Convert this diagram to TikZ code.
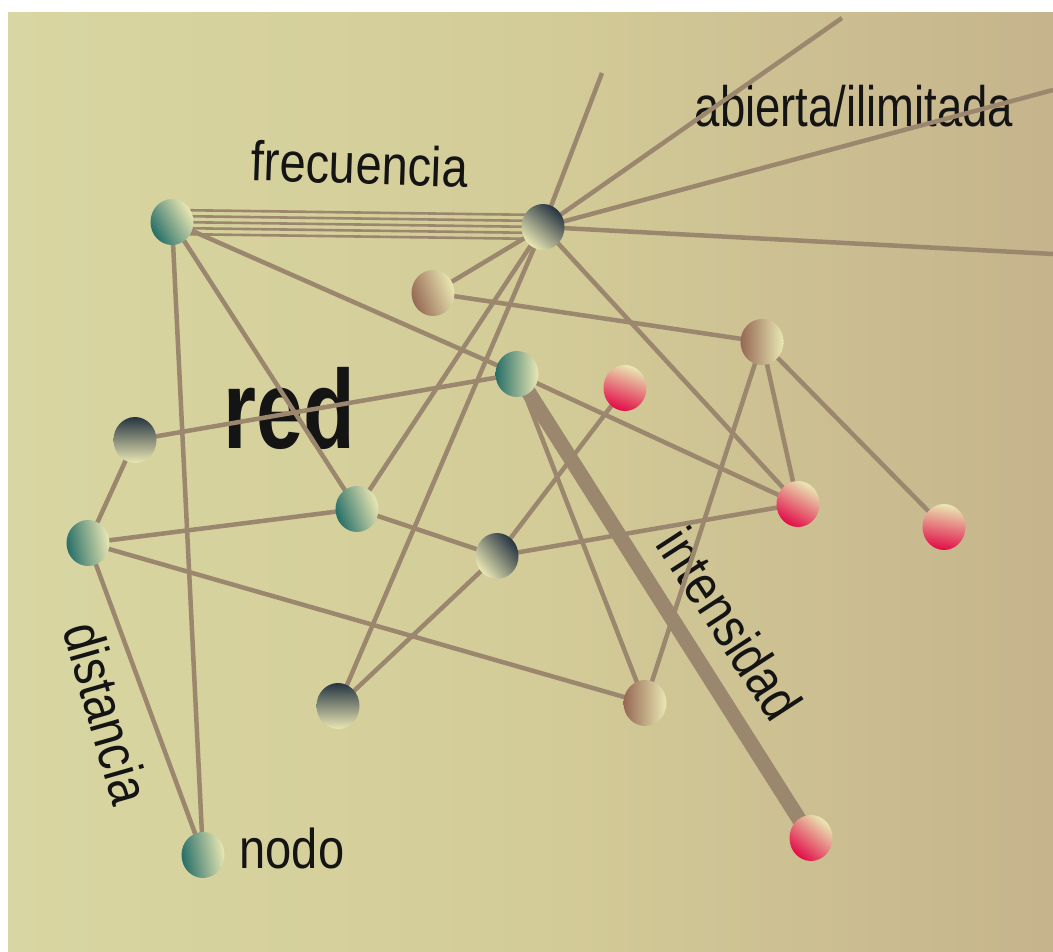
\documentclass[tikz,border=0pt]{standalone}
\usepackage{fontspec}
\setmainfont{Liberation Sans}
\usetikzlibrary{shapes.geometric}

\pgfdeclarelayer{back}
\pgfdeclarelayer{links}
\pgfsetlayers{back,links,main}

\definecolor{bgLeft}{RGB}{216,214,162}
\definecolor{bgMid}{RGB}{211,204,152}
\definecolor{bgRight}{RGB}{198,180,140}
\definecolor{linkBrown}{RGB}{155,134,110}
\definecolor{ballLight}{RGB}{234,232,180}
\definecolor{ballTeal}{RGB}{38,110,104}
\definecolor{ballDark}{RGB}{38,52,66}
\definecolor{ballBrown}{RGB}{150,104,84}
\definecolor{ballPink}{RGB}{226,12,72}

\tikzset{
  ball/.style={ellipse, inner sep=0pt, minimum width=43pt, minimum height=46pt},
  tealball/.style={ball, top color=ballTeal, bottom color=ballLight, shading angle=#1},
  tealball/.default=100,
  darkball/.style={ball, top color=ballDark, bottom color=ballLight, shading angle=#1},
  darkball/.default=0,
  brownball/.style={ball, top color=ballBrown, bottom color=ballLight, shading angle=#1},
  brownball/.default=100,
  pinkball/.style={ball, top color=ballPink, bottom color=ballLight, shading angle=#1},
  pinkball/.default=150,
  link/.style={draw=linkBrown, line width=4.5pt},
  thinlink/.style={draw=linkBrown, line width=2.6pt},
  heavylink/.style={draw=linkBrown, line width=15pt},
  word/.style={inner sep=0pt, text=black!92, font=\fontsize{56}{60}\selectfont, xscale=0.84}
}

\begin{document}
\begin{tikzpicture}[x=1pt, y=-1pt]
  \useasboundingbox (0,0) rectangle (1053,952);

  % Background panel
  \begin{pgfonlayer}{back}
    \fill[left color=bgLeft, right color=bgRight, middle color=bgMid] (8,13) rectangle (1053,952);
  \end{pgfonlayer}

  % Nodes of the network
  \node[tealball=120] (A) at (172,222) {};
  \node[darkball=-40] (B) at (543,227) {};
  \node[brownball=110] (C) at (433,293) {};
  \node[brownball=90] (D) at (762,342) {};
  \node[tealball=90] (E) at (517,374) {};
  \node[pinkball=160] (F) at (625,388) {};
  \node[darkball=0] (G) at (135,440) {};
  \node[tealball=110] (H) at (357,509) {};
  \node[tealball=100] (I) at (88,543) {};
  \node[pinkball=150] (J) at (798,504) {};
  \node[pinkball=170] (K) at (944,527) {};
  \node[darkball=-50] (L) at (497,556) {};
  \node[darkball=0] (M) at (338,706) {};
  \node[brownball=90] (N) at (645,703) {};
  \node[pinkball=140] (O) at (811,838) {};
  \node[tealball=100] (P) at (203,855) {};

  % Open ends of the hub
  \coordinate (T1) at (602,73);
  \coordinate (T2) at (842,18);
  \coordinate (T3) at (1053,90);
  \coordinate (T4) at (1053,254);

  % Labels
  \begin{pgfonlayer}{back}
    \node[rotate=-2, word, anchor=base] (lfrec) at (359,184) {frecuencia};
    \node[word, xscale=0.95, anchor=base, font=\fontsize{57}{60}\selectfont] (labi) at (854,127) {abierta/ilimitada};
    \node[word, xscale=0.9, anchor=base, font=\fontsize{112}{120}\selectfont\bfseries] (lred) at (289,448) {red};
    \node[word, anchor=base] (lnodo) at (292,868) {nodo};
    \node[rotate=-57, word] (lint) at (730,624) {intensidad};
    \node[rotate=-74, word] (ldist) at (107,713) {distancia};
  \end{pgfonlayer}

  % Connectors
  \begin{pgfonlayer}{links}
    \foreach \d in {-12,-6,0,6,12}
      \draw[thinlink] ([yshift=\d pt]A.center) -- ([yshift=\d pt]B.center);
    \foreach \t in {T1,T2,T3,T4}
      \draw[link] (B.center) -- (\t);
    \draw[heavylink] (E.center) -- (O.center);
    \foreach \a/\b in {A/E, A/H, A/P, B/C, B/H, B/M, B/J, C/D, D/J, D/K, D/N,
                       E/J, E/N, F/L, G/E, G/I, H/L, I/H, I/N, I/P, L/J, L/M}
      \draw[link] (\a.center) -- (\b.center);
  \end{pgfonlayer}
\end{tikzpicture}
\end{document}
